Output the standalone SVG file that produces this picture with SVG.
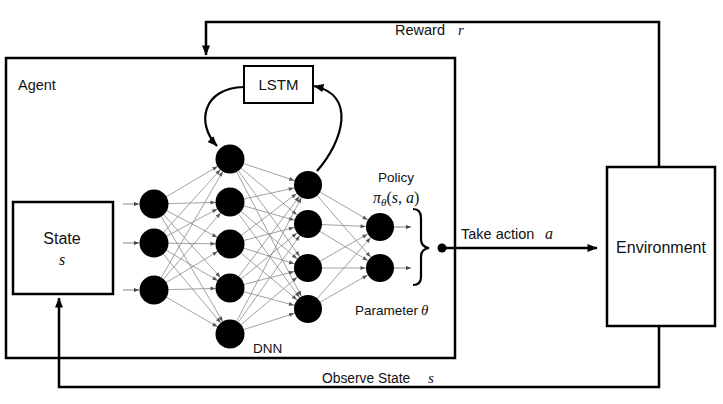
<svg xmlns="http://www.w3.org/2000/svg" width="723" height="404" viewBox="0 0 723 404">
<style>
.box{fill:#fff;stroke:#000;stroke-width:2.5}
.lbl{font-family:"Liberation Sans",Arial,sans-serif;fill:#111}
.m{font-family:"Liberation Serif","Times New Roman",serif;font-style:italic;fill:#111}
.main{fill:none;stroke:#000;stroke-width:2.5}
.curve{fill:none;stroke:#000;stroke-width:2.2}
.edge{stroke:#8a8a8a;stroke-width:0.8;fill:none}
.io{stroke:#777;stroke-width:0.9;fill:none}
.n{fill:#000}
</style>
<defs>
<marker id="ar" markerUnits="userSpaceOnUse" markerWidth="10" markerHeight="8" refX="9.5" refY="4" orient="auto" overflow="visible"><path d="M0,0 L10,4 L0,8 z" fill="#000"/></marker>
<marker id="ge" markerUnits="userSpaceOnUse" markerWidth="5" markerHeight="4" refX="19.5" refY="2" orient="auto" overflow="visible"><path d="M0,0 L5,2 L0,4 z" fill="#555"/></marker>
<marker id="gi" markerUnits="userSpaceOnUse" markerWidth="5" markerHeight="4" refX="5" refY="2" orient="auto" overflow="visible"><path d="M0,0 L5,2 L0,4 z" fill="#444"/></marker>
</defs>
<rect width="723" height="404" fill="#fff"/>

<g id="agent">
<rect class="box" x="6" y="58" width="449" height="300"/>
<text class="lbl" x="18" y="90" font-size="14.5">Agent</text>
</g>

<g id="environment">
<rect class="box" x="607" y="167" width="108" height="159"/>
<text class="lbl" x="661" y="253" font-size="16" text-anchor="middle">Environment</text>
</g>

<g id="connectors">
<path class="main" d="M659,166 V22 H206 V55" marker-end="url(#ar)"/>
<path class="main" d="M659,326 V387 H59 V298" marker-end="url(#ar)"/>
<path class="main" d="M442,248 H597" marker-end="url(#ar)"/>
<path class="curve" d="M244,87 C202,88 196,124 217,146" marker-end="url(#ar)"/>
<path class="curve" d="M317,171 C344,140 356,95 314,86" marker-end="url(#ar)"/>
<g id="edges12">
<line class="edge" x1="154" y1="204" x2="230" y2="159" marker-end="url(#ge)"/>
<line class="edge" x1="154" y1="204" x2="230" y2="202" marker-end="url(#ge)"/>
<line class="edge" x1="154" y1="204" x2="230" y2="244" marker-end="url(#ge)"/>
<line class="edge" x1="154" y1="204" x2="230" y2="288" marker-end="url(#ge)"/>
<line class="edge" x1="154" y1="204" x2="230" y2="334" marker-end="url(#ge)"/>
<line class="edge" x1="154" y1="243" x2="230" y2="159" marker-end="url(#ge)"/>
<line class="edge" x1="154" y1="243" x2="230" y2="202" marker-end="url(#ge)"/>
<line class="edge" x1="154" y1="243" x2="230" y2="244" marker-end="url(#ge)"/>
<line class="edge" x1="154" y1="243" x2="230" y2="288" marker-end="url(#ge)"/>
<line class="edge" x1="154" y1="243" x2="230" y2="334" marker-end="url(#ge)"/>
<line class="edge" x1="154" y1="290" x2="230" y2="159" marker-end="url(#ge)"/>
<line class="edge" x1="154" y1="290" x2="230" y2="202" marker-end="url(#ge)"/>
<line class="edge" x1="154" y1="290" x2="230" y2="244" marker-end="url(#ge)"/>
<line class="edge" x1="154" y1="290" x2="230" y2="288" marker-end="url(#ge)"/>
<line class="edge" x1="154" y1="290" x2="230" y2="334" marker-end="url(#ge)"/>
</g>
<g id="edges23">
<line class="edge" x1="230" y1="159" x2="308" y2="185" marker-end="url(#ge)"/>
<line class="edge" x1="230" y1="159" x2="308" y2="224" marker-end="url(#ge)"/>
<line class="edge" x1="230" y1="159" x2="308" y2="268" marker-end="url(#ge)"/>
<line class="edge" x1="230" y1="159" x2="308" y2="309" marker-end="url(#ge)"/>
<line class="edge" x1="230" y1="202" x2="308" y2="185" marker-end="url(#ge)"/>
<line class="edge" x1="230" y1="202" x2="308" y2="224" marker-end="url(#ge)"/>
<line class="edge" x1="230" y1="202" x2="308" y2="268" marker-end="url(#ge)"/>
<line class="edge" x1="230" y1="202" x2="308" y2="309" marker-end="url(#ge)"/>
<line class="edge" x1="230" y1="244" x2="308" y2="185" marker-end="url(#ge)"/>
<line class="edge" x1="230" y1="244" x2="308" y2="224" marker-end="url(#ge)"/>
<line class="edge" x1="230" y1="244" x2="308" y2="268" marker-end="url(#ge)"/>
<line class="edge" x1="230" y1="244" x2="308" y2="309" marker-end="url(#ge)"/>
<line class="edge" x1="230" y1="288" x2="308" y2="185" marker-end="url(#ge)"/>
<line class="edge" x1="230" y1="288" x2="308" y2="224" marker-end="url(#ge)"/>
<line class="edge" x1="230" y1="288" x2="308" y2="268" marker-end="url(#ge)"/>
<line class="edge" x1="230" y1="288" x2="308" y2="309" marker-end="url(#ge)"/>
<line class="edge" x1="230" y1="334" x2="308" y2="185" marker-end="url(#ge)"/>
<line class="edge" x1="230" y1="334" x2="308" y2="224" marker-end="url(#ge)"/>
<line class="edge" x1="230" y1="334" x2="308" y2="268" marker-end="url(#ge)"/>
<line class="edge" x1="230" y1="334" x2="308" y2="309" marker-end="url(#ge)"/>
</g>
<g id="edges34">
<line class="edge" x1="308" y1="185" x2="380" y2="227" marker-end="url(#ge)"/>
<line class="edge" x1="308" y1="185" x2="380" y2="268" marker-end="url(#ge)"/>
<line class="edge" x1="308" y1="224" x2="380" y2="227" marker-end="url(#ge)"/>
<line class="edge" x1="308" y1="224" x2="380" y2="268" marker-end="url(#ge)"/>
<line class="edge" x1="308" y1="268" x2="380" y2="227" marker-end="url(#ge)"/>
<line class="edge" x1="308" y1="268" x2="380" y2="268" marker-end="url(#ge)"/>
<line class="edge" x1="308" y1="309" x2="380" y2="227" marker-end="url(#ge)"/>
<line class="edge" x1="308" y1="309" x2="380" y2="268" marker-end="url(#ge)"/>
</g>
<g id="io">
<line class="io" x1="123" y1="204" x2="139" y2="204" marker-end="url(#gi)"/>
<line class="io" x1="123" y1="243" x2="139" y2="243" marker-end="url(#gi)"/>
<line class="io" x1="123" y1="290" x2="139" y2="290" marker-end="url(#gi)"/>
<line class="io" x1="394" y1="227" x2="411" y2="227" marker-end="url(#gi)"/>
<line class="io" x1="394" y1="268" x2="411" y2="268" marker-end="url(#gi)"/>
</g>
<text class="lbl" x="395" y="35" font-size="14.5">Reward</text>
<text class="m" x="458" y="35" font-size="15">r</text>
<text class="lbl" x="322" y="383" font-size="13.8">Observe State</text>
<text class="m" x="428" y="383" font-size="15">s</text>
<text class="lbl" x="461" y="239" font-size="14.5">Take action</text>
<text class="m" x="545" y="239" font-size="16">a</text>
</g>

<g id="state">
<rect class="box" x="13" y="202" width="100" height="92"/>
<text class="lbl" x="62" y="244" font-size="16" text-anchor="middle">State</text>
<text class="m" x="62" y="265" font-size="16" text-anchor="middle">s</text>
</g>

<g id="lstm">
<rect x="244" y="66" width="69" height="37" fill="#fff" stroke="#000" stroke-width="2"/>
<text class="lbl" x="278.5" y="90" font-size="15" text-anchor="middle">LSTM</text>
</g>

<g id="dnn">
<circle class="n" cx="154" cy="204" r="14.5"/>
<circle class="n" cx="154" cy="243" r="14.5"/>
<circle class="n" cx="154" cy="290" r="14.5"/>
<circle class="n" cx="230" cy="159" r="14.5"/>
<circle class="n" cx="230" cy="202" r="14.5"/>
<circle class="n" cx="230" cy="244" r="14.5"/>
<circle class="n" cx="230" cy="288" r="14.5"/>
<circle class="n" cx="230" cy="334" r="14.5"/>
<circle class="n" cx="308" cy="185" r="14"/>
<circle class="n" cx="308" cy="224" r="14"/>
<circle class="n" cx="308" cy="268" r="14"/>
<circle class="n" cx="308" cy="309" r="14"/>
<text class="lbl" x="253" y="353" font-size="13.5">DNN</text>
</g>

<g id="policy">
<circle class="n" cx="380" cy="227" r="14"/>
<circle class="n" cx="380" cy="268" r="14"/>
<text class="lbl" x="396" y="182" font-size="13.5" text-anchor="middle">Policy</text>
<text class="m" x="373" y="203" font-size="16" font-style="normal"><tspan font-style="italic">π</tspan><tspan font-style="italic" font-size="11" dy="3">θ</tspan><tspan dy="-3" font-style="normal">(</tspan><tspan font-style="italic">s</tspan><tspan font-style="normal">, </tspan><tspan font-style="italic">a</tspan><tspan font-style="normal">)</tspan></text>
<path d="M413,209 Q421,209 421,218 L421,239 Q421,247 429,248 Q421,249 421,257 L421,277 Q421,285 413,285" fill="none" stroke="#000" stroke-width="2.2"/>
<circle cx="442" cy="248" r="4.5" fill="#000"/>
<text class="lbl" x="355" y="315" font-size="13.5">Parameter</text>
<text class="m" x="421" y="315" font-size="15">θ</text>
</g>
</svg>
